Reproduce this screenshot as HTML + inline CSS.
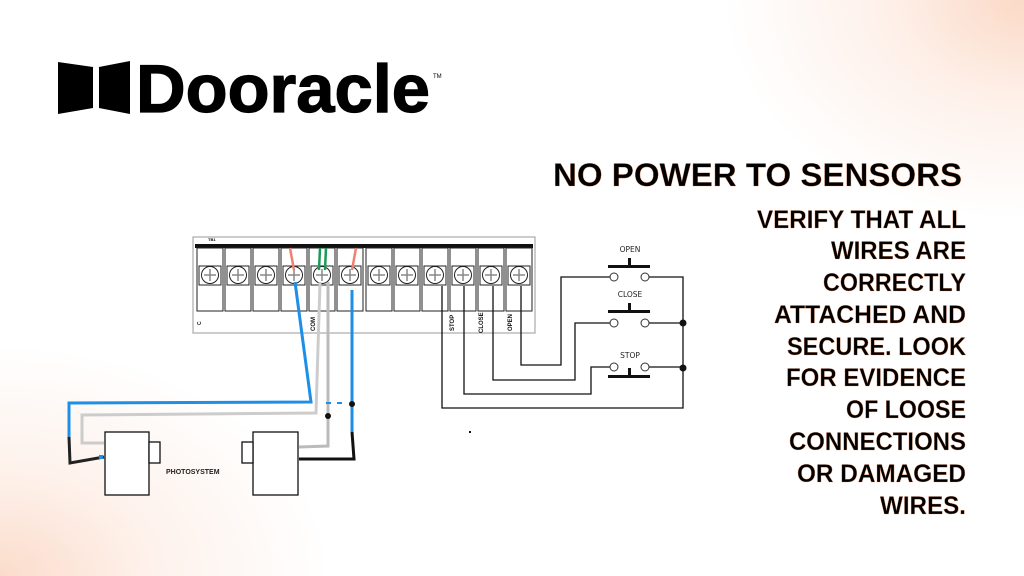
<!DOCTYPE html>
<html><head><meta charset="utf-8"><style>
html,body{margin:0;padding:0}
body{width:1024px;height:576px;overflow:hidden;position:relative;background:#fff;
background:radial-gradient(ellipse 300px 220px at 1024px 0px,#fbd9c6 0%,rgba(253,230,218,0.6) 45%,rgba(255,255,255,0) 100%),
radial-gradient(ellipse 330px 230px at 0px 576px,#fbdccb 0%,rgba(253,232,221,0.6) 45%,rgba(255,255,255,0) 100%),#fff;}
svg{position:absolute;left:0;top:0}
</style></head><body>
<svg width="1024" height="576" viewBox="0 0 1024 576" xmlns="http://www.w3.org/2000/svg">
<!-- logo -->
<path d="M58,62 L93,67 L93,108 L58,114 Z" fill="#000"/>
<path d="M99,67 L130,61 L130,114 L99,108 Z" fill="#000"/>
<text x="136" y="112" font-family="Liberation Sans, sans-serif" font-weight="bold" font-size="68" textLength="294" lengthAdjust="spacingAndGlyphs" fill="#000" stroke="#000" stroke-width="1.2">Dooracle</text>
<text x="433" y="78" font-family="Liberation Sans, sans-serif" font-size="6" fill="#000">TM</text>

<!-- right text -->
<g font-family="Liberation Sans, sans-serif" font-weight="bold" fill="#000" stroke="#e08a60" stroke-width="0.35" text-anchor="end">
<text x="962" y="186" font-size="32" textLength="409" lengthAdjust="spacingAndGlyphs">NO POWER TO SENSORS</text>
<g font-size="25">
<text x="966" y="228" textLength="209" lengthAdjust="spacingAndGlyphs">VERIFY THAT ALL</text>
<text x="966" y="259" textLength="135" lengthAdjust="spacingAndGlyphs">WIRES ARE</text>
<text x="966" y="291" textLength="143" lengthAdjust="spacingAndGlyphs">CORRECTLY</text>
<text x="966" y="323" textLength="192" lengthAdjust="spacingAndGlyphs">ATTACHED AND</text>
<text x="966" y="355" textLength="179" lengthAdjust="spacingAndGlyphs">SECURE. LOOK</text>
<text x="966" y="386" textLength="180" lengthAdjust="spacingAndGlyphs">FOR EVIDENCE</text>
<text x="966" y="418" textLength="120" lengthAdjust="spacingAndGlyphs">OF LOOSE</text>
<text x="966" y="450" textLength="177" lengthAdjust="spacingAndGlyphs">CONNECTIONS</text>
<text x="966" y="482" textLength="169" lengthAdjust="spacingAndGlyphs">OR DAMAGED</text>
<text x="966" y="514" textLength="86" lengthAdjust="spacingAndGlyphs">WIRES.</text>
</g></g>

<!-- terminal block -->
<rect x="193" y="237" width="342" height="96" fill="#fff" stroke="#999" stroke-width="1"/>
<text x="208" y="241" font-family="Liberation Sans, sans-serif" font-size="4" font-weight="bold">TB1</text>
<rect x="195" y="244" width="338" height="4" fill="#111"/>
<g fill="#fff" stroke="#222" stroke-width="1">
<rect x="197" y="248" width="26" height="63"/><rect x="225" y="248" width="26" height="63"/><rect x="253" y="248" width="26" height="63"/><rect x="281" y="248" width="26" height="63"/><rect x="309" y="248" width="26" height="63"/><rect x="337" y="248" width="26" height="63"/><rect x="366" y="248" width="26" height="63"/><rect x="394" y="248" width="26" height="63"/><rect x="422" y="248" width="26" height="63"/><rect x="450" y="248" width="26" height="63"/><rect x="478" y="248" width="26" height="63"/><rect x="506" y="248" width="26" height="63"/>
</g>
<g fill="#fff" stroke="#222" stroke-width="1">
<rect x="199" y="266" width="22" height="19"/><circle cx="210" cy="275" r="8.5"/>
<rect x="227" y="266" width="22" height="19"/><circle cx="238" cy="275" r="8.5"/>
<rect x="255" y="266" width="22" height="19"/><circle cx="266" cy="275" r="8.5"/>
<rect x="283" y="266" width="22" height="19"/><circle cx="294" cy="275" r="8.5"/>
<rect x="311" y="266" width="22" height="19"/><circle cx="322" cy="275" r="8.5"/>
<rect x="339" y="266" width="22" height="19"/><circle cx="350" cy="275" r="8.5"/>
<rect x="368" y="266" width="22" height="19"/><circle cx="379" cy="275" r="8.5"/>
<rect x="396" y="266" width="22" height="19"/><circle cx="407" cy="275" r="8.5"/>
<rect x="424" y="266" width="22" height="19"/><circle cx="435" cy="275" r="8.5"/>
<rect x="452" y="266" width="22" height="19"/><circle cx="463" cy="275" r="8.5"/>
<rect x="480" y="266" width="22" height="19"/><circle cx="491" cy="275" r="8.5"/>
<rect x="508" y="266" width="22" height="19"/><circle cx="519" cy="275" r="8.5"/>
</g>
<g stroke="#888" stroke-width="1.5">
<path d="M204,275h12M210,269v12M232,275h12M238,269v12M260,275h12M266,269v12M288,275h12M294,269v12M316,275h12M322,269v12M344,275h12M350,269v12M373,275h12M379,269v12M401,275h12M407,269v12M429,275h12M435,269v12M457,275h12M463,269v12M485,275h12M491,269v12M513,275h12M519,269v12"/>
</g>
<g font-family="Liberation Sans, sans-serif" font-size="6" font-weight="bold" fill="#111">
<text transform="translate(315,331) rotate(-90)">COM</text>
<text transform="translate(454,331) rotate(-90)">STOP</text>
<text transform="translate(483,333) rotate(-90)">CLOSE</text>
<text transform="translate(512,331) rotate(-90)">OPEN</text>
<text transform="translate(201,325) rotate(-90)" font-size="5">C</text>
</g>
<g stroke-width="2.5" fill="none">
<path d="M290,248 L294,270" stroke="#f08070"/>
<path d="M356,248 L352,270" stroke="#f08070"/>
<path d="M320,248 L319,270 M326,248 L325,270" stroke="#1a9a55"/>
</g>
<g fill="none" stroke-width="3">
<path d="M320,282 L316,413 L82,415 L82,443 L104,443" stroke="#ccc"/>
<path d="M328,282 L328,446 L299,447" stroke="#bbb"/>
<path d="M295,282 L311,402 L69,403 L69,437" stroke="#1e8fe6"/>
<path d="M352,290 L352,432" stroke="#1e8fe6"/>
<path d="M69,437 L70,463 L104,457" stroke="#222"/>
<path d="M352,432 L354,459 L299,459" stroke="#111"/>
</g>
<path d="M326,403h5M337,403h5" stroke="#1e8fe6" stroke-width="2"/>
<circle cx="352" cy="404" r="3" fill="#111"/><circle cx="328" cy="416" r="3" fill="#111"/>
<g fill="#fff" stroke="#111" stroke-width="1.3">
<rect x="105" y="432" width="44" height="63"/><rect x="149" y="442" width="11" height="21"/>
<rect x="253" y="432" width="45" height="63"/><rect x="242" y="442" width="11" height="21"/>
</g>
<rect x="99" y="455" width="4" height="4" fill="#1e8fe6"/>
<text x="166" y="474" font-family="Liberation Sans, sans-serif" font-size="7" font-weight="bold" fill="#222">PHOTOSYSTEM</text>

<g fill="none" stroke="#111" stroke-width="1.3">
<path d="M442,286 V408 H683 V277 H649"/>
<path d="M464,286 V394 H591 V367 H610"/>
<path d="M493,286 V380 H575 V323 H610"/>
<path d="M521,286 V365 H561 V277 H610"/>
<path d="M649,323 H683 M649,367 H683"/>
</g>
<circle cx="683" cy="323" r="3.5" fill="#111"/><circle cx="683" cy="368" r="3.5" fill="#111"/>
<g fill="#fff" stroke="#333" stroke-width="1">
<circle cx="614" cy="277" r="4"/><circle cx="645" cy="277" r="4"/>
<circle cx="614" cy="323" r="4"/><circle cx="645" cy="323" r="4"/>
<circle cx="614" cy="367" r="4"/><circle cx="645" cy="367" r="4"/>
</g>
<g fill="#111">
<rect x="608" y="265" width="42" height="3"/><rect x="628" y="258" width="3" height="8"/>
<rect x="608" y="310" width="42" height="3"/><rect x="628" y="303" width="3" height="8"/>
<rect x="608" y="375" width="42" height="3"/><rect x="628" y="368" width="3" height="8"/>
<rect x="469" y="431" width="2" height="2"/>
</g>
<g font-family="DejaVu Sans, sans-serif" font-size="7.5" fill="#222" text-anchor="middle">
<text x="630" y="252">OPEN</text><text x="630" y="297">CLOSE</text><text x="630" y="358">STOP</text>
</g>
</svg>
</body></html>
